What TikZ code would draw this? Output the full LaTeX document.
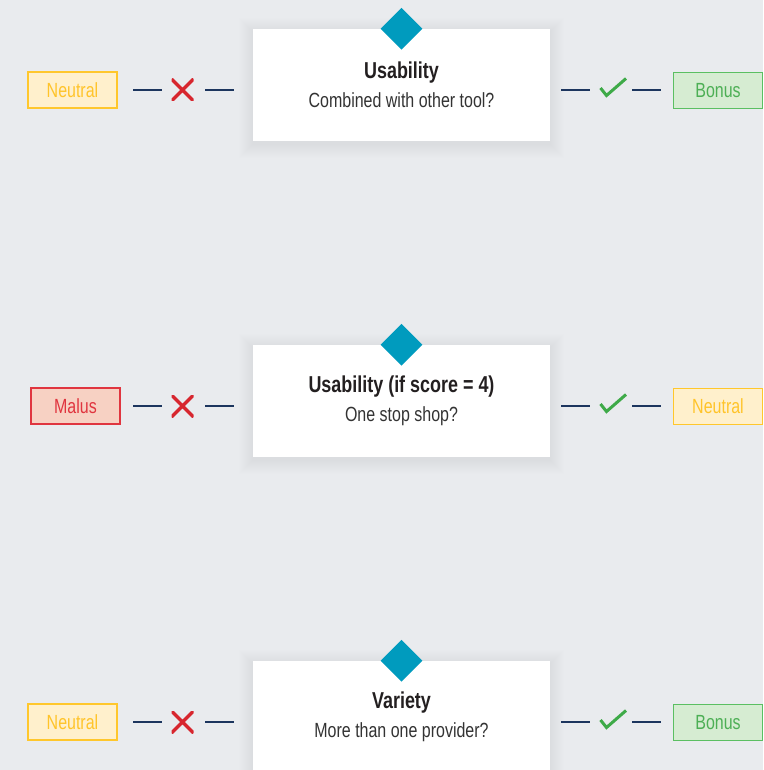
\documentclass[tikz,border=0pt]{standalone}
\usepackage{fontspec}
\setmainfont{Liberation Sans}[FakeStretch=0.78]
\usetikzlibrary{shapes.geometric}
\definecolor{bgc}{HTML}{E9EBEE}
\definecolor{teal}{HTML}{009BBE}
\definecolor{navy}{HTML}{1C355E}
\definecolor{xred}{HTML}{D7262E}
\definecolor{okgreen}{HTML}{3EAA48}
\definecolor{neuFill}{HTML}{FFF0CC}
\definecolor{neuLine}{HTML}{FFC72C}
\definecolor{neuText}{HTML}{FFC42A}
\definecolor{bonFill}{HTML}{D6ECD2}
\definecolor{bonLine}{HTML}{5BBF62}
\definecolor{bonText}{HTML}{4DAF55}
\definecolor{malFill}{HTML}{F7D1C3}
\definecolor{malLine}{HTML}{E0353F}
\definecolor{titleC}{HTML}{231F20}
\definecolor{subC}{HTML}{333333}
\pgfdeclarelayer{bg}
\pgfsetlayers{bg,main}
\begin{document}
\begin{tikzpicture}[x=1pt,y=-1pt,
  qbox/.style={fill=white, minimum width=297pt, minimum height=112pt, inner sep=0pt,
    align=center, text=subC, font=\fontsize{20.5}{29}\selectfont},
  shadowlayer/.style={fill=black, fill opacity=0.0045},
  marker/.style={diamond, fill=teal, minimum width=42pt, minimum height=42pt, inner sep=0pt},
  lab/.style={minimum width=89pt, minimum height=36pt, inner sep=0pt, line width=1.3pt,
    font=\fontsize{20.5}{24}\selectfont},
  lbneutral/.style={lab, fill=neuFill, draw=neuLine, text=neuText},
  lbbonus/.style={lab, fill=bonFill, draw=bonLine, text=bonText},
  lbmalus/.style={lab, fill=malFill, draw=malLine, text=malLine},
  dashline/.style={draw=navy, line width=1.2pt},
  xmark/.style={minimum width=22pt, minimum height=22pt, inner sep=0pt,
    path picture={\draw[xred, line width=3.2pt]
      (path picture bounding box.north west) -- (path picture bounding box.south east)
      (path picture bounding box.south west) -- (path picture bounding box.north east);}},
  okmark/.style={minimum width=28pt, minimum height=24pt, inner sep=0pt,
    path picture={\draw[okgreen, line width=3pt, line join=miter]
      ([xshift=-12.5pt,yshift=1pt]path picture bounding box.center) --
      ([xshift=-6.5pt,yshift=-6.5pt]path picture bounding box.center) --
      ([xshift=13pt,yshift=10.5pt]path picture bounding box.center);}}
]
\begin{pgfonlayer}{bg}
\fill[bgc] (0,0) rectangle (763,770);
\end{pgfonlayer}
\useasboundingbox (0,0) rectangle (763,770);
\clip (0,0) rectangle (763,770);

\foreach \n/\by/\ry/\ttl/\sub/\lstyle/\ltxt/\lx/\rstyle/\rtxt in {
  1/85/90/{Usability}/{Combined with other tool?}/lbneutral/Neutral/72.5/lbbonus/Bonus,
  2/401/406/{Usability (if score = 4)}/{One stop shop?}/lbmalus/Malus/75.5/lbneutral/Neutral,
  3/717/722/{Variety}/{More than one provider?}/lbneutral/Neutral/72.5/lbbonus/Bonus}{
  \node[qbox] (box\n) at (401.5,\by)
    {{\fontsize{23}{29}\selectfont\bfseries\color{titleC}\ttl}\\\sub};
  \begin{pgfonlayer}{bg}
    \foreach \k in {1,...,14}{
      \fill[shadowlayer] ([xshift=-\k pt, yshift=\k pt - 3pt]box\n.north west)
        rectangle ([xshift=\k pt, yshift=-\k pt - 3pt]box\n.south east);
    }
  \end{pgfonlayer}
  \node[marker] (dia\n) at (box\n.north) {};
  \node[\lstyle] (left\n) at (\lx,\ry) {\ltxt};
  \node[\rstyle] (right\n) at (718,\ry+0.5) {\rtxt};
  \node[xmark] (no\n) at (182.5,\ry) {};
  \node[okmark] (yes\n) at (613,\ry-1) {};
  \draw[dashline] ([xshift=-49.5pt]no\n.center) -- ([xshift=-20.5pt]no\n.center);
  \draw[dashline] ([xshift=22.5pt]no\n.center) -- ([xshift=51.5pt]no\n.center);
  \draw[dashline] ([xshift=-52pt,yshift=-1pt]yes\n.center) -- ([xshift=-23pt,yshift=-1pt]yes\n.center);
  \draw[dashline] ([xshift=19pt,yshift=-1pt]yes\n.center) -- ([xshift=48pt,yshift=-1pt]yes\n.center);
}
\end{tikzpicture}
\end{document}
